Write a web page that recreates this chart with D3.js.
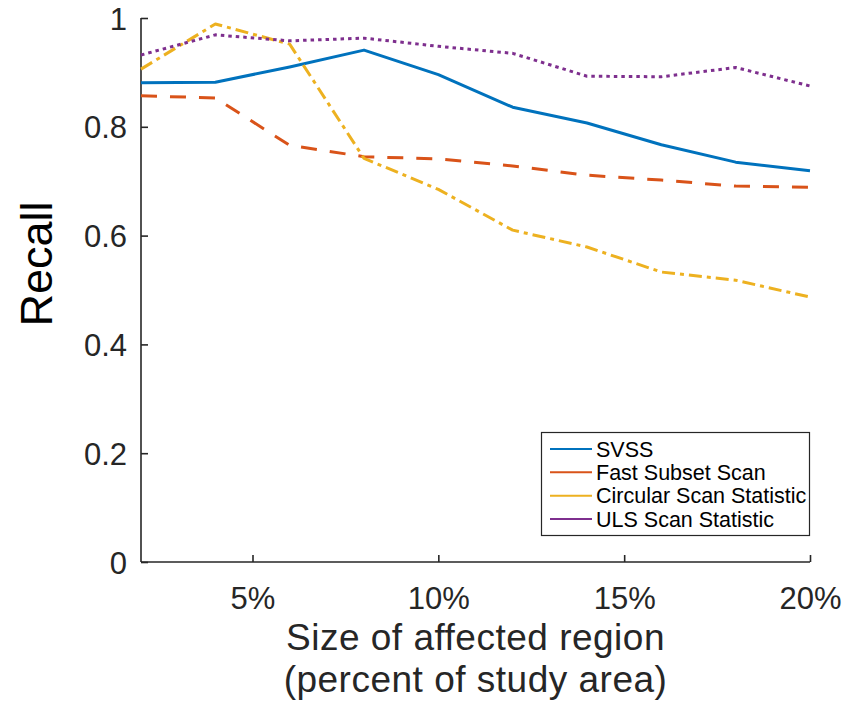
<!DOCTYPE html>
<html>
<head>
<meta charset="utf-8">
<script src="https://cdn.jsdelivr.net/npm/d3@7"></script>
<style>
  html, body { margin: 0; padding: 0; background: #fff; }
  svg { display: block; font-family: "Liberation Sans", Arial, Helvetica, sans-serif; }
</style>
</head>
<body>
<svg id="chart" width="859" height="705"></svg>
<script>
// ---- data ----
const sizes = [2, 4, 6, 8, 10, 12, 14, 16, 18, 20];
const svss = [0.881, 0.882, 0.910, 0.941, 0.896, 0.836, 0.807, 0.767, 0.735, 0.719];
const fastSubset = [0.857, 0.853, 0.766, 0.745, 0.741, 0.728, 0.711, 0.702, 0.691, 0.689];
const circular = [0.906, 0.989, 0.952, 0.742, 0.685, 0.610, 0.579, 0.533, 0.518, 0.487];
const uls = [0.932, 0.969, 0.958, 0.963, 0.948, 0.935, 0.893, 0.892, 0.909, 0.875];
const seriesNames = ["SVSS", "Fast Subset Scan", "Circular Scan Statistic", "ULS Scan Statistic"];
const xTicks = [5, 10, 15, 20];
const xTickLabels = ["5%", "10%", "15%", "20%"];
const yTicks = [0, 0.2, 0.4, 0.6, 0.8, 1];
const yTickLabels = ["0", "0.2", "0.4", "0.6", "0.8", "1"];

(function () {
const series = [
  { name: seriesNames[0], values: svss, color: "#0072BD", dash: null },
  { name: seriesNames[1], values: fastSubset, color: "#D95319", dash: "16,13" },
  { name: seriesNames[2], values: circular, color: "#EDB120", dash: "13,5,4,5" },
  { name: seriesNames[3], values: uls, color: "#7E2F8E", dash: "3.5,4" }
];

const svg = d3.select("#chart");
const pL = 141, pR = 810, pT = 18, pB = 562;
const x = d3.scaleLinear().domain([2, 20]).range([pL, pR]);
const y = d3.scaleLinear().domain([0, 1]).range([pB, pT]);
const axisColor = "#262626";

// ---- axes ----
const xAxis = d3.axisBottom(x).tickValues(xTicks).tickSizeInner(-7).tickSizeOuter(0)
  .tickFormat((d, i) => xTickLabels[i]).tickPadding(14);
const gx = svg.append("g").attr("transform", `translate(0,${pB})`).call(xAxis);
gx.select(".domain").attr("stroke", axisColor).attr("stroke-width", 1.6)
  .attr("d", `M${pL},0H${pR}`);
gx.selectAll(".tick line").attr("stroke", axisColor).attr("stroke-width", 1.6);
gx.selectAll(".tick text").attr("fill", axisColor).attr("font-size", 31)
  .attr("font-family", "'Liberation Sans', Arial, sans-serif").attr("dy", "1.05em");

const yAxis = d3.axisLeft(y).tickValues(yTicks).tickSizeInner(-7).tickSizeOuter(0)
  .tickFormat((d, i) => yTickLabels[i]).tickPadding(14);
const gy = svg.append("g").attr("transform", `translate(${pL},0)`).call(yAxis);
gy.select(".domain").attr("stroke", axisColor).attr("stroke-width", 1.6)
  .attr("d", `M0,${pT}V${pB}`);
gy.selectAll(".tick line").attr("stroke", axisColor).attr("stroke-width", 1.6);
gy.selectAll(".tick text").attr("fill", axisColor).attr("font-size", 31)
  .attr("font-family", "'Liberation Sans', Arial, sans-serif").attr("dy", "0.36em");

// ---- lines ----
const line = d3.line().x((d, i) => x(sizes[i])).y(d => y(d));
svg.append("g").selectAll("path").data(series).join("path")
  .attr("d", d => line(d.values))
  .attr("fill", "none")
  .attr("stroke", d => d.color)
  .attr("stroke-width", 3)
  .attr("stroke-linejoin", "round")
  .attr("stroke-dasharray", d => d.dash);

// ---- axis labels ----
svg.append("text")
  .attr("transform", `translate(52,264) rotate(-90)`)
  .attr("text-anchor", "middle")
  .attr("font-size", 45)
  .attr("fill", "#000")
  .text("Recall");

svg.append("text").attr("x", (pL + pR) / 2).attr("y", 650)
  .attr("text-anchor", "middle").attr("font-size", 37).attr("letter-spacing", 0.5)
  .attr("fill", axisColor)
  .text("Size of affected region");
svg.append("text").attr("x", (pL + pR) / 2).attr("y", 692)
  .attr("text-anchor", "middle").attr("font-size", 37).attr("letter-spacing", 0.5)
  .attr("fill", axisColor)
  .text("(percent of study area)");

// ---- legend ----
const lg = svg.append("g");
lg.append("rect").attr("x", 541.5).attr("y", 432.5).attr("width", 268).attr("height", 103)
  .attr("fill", "#fff").attr("stroke", axisColor).attr("stroke-width", 1.2);
const rowY = d3.scaleLinear().domain([0, 3]).range([449, 519]);
series.forEach((s, i) => {
  lg.append("line").attr("x1", 550).attr("x2", 592)
    .attr("y1", rowY(i)).attr("y2", rowY(i))
    .attr("stroke", s.color).attr("stroke-width", 2);
  lg.append("text").attr("x", 596).attr("y", rowY(i)).attr("dy", "0.36em")
    .attr("font-size", 21.5).attr("fill", "#000").text(s.name);
});
})();
</script>
</body>
</html>
